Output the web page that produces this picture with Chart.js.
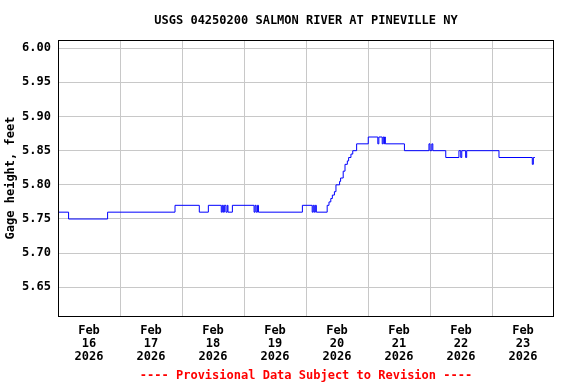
<!DOCTYPE html>
<html>
<head>
<meta charset="utf-8">
<script src="https://cdn.jsdelivr.net/npm/chart.js@4.4.1/dist/chart.umd.min.js"></script>
<style>
  html, body { margin: 0; padding: 0; background: #fff; }
  #wrap { width: 576px; height: 384px; }
</style>
</head>
<body>
<div id="wrap"><canvas id="gage" width="576" height="384"></canvas></div>
<script>
// hours since Feb 16 2026 00:00 -> gage height (ft), each value holds until the next entry
const hours = [
    0, 4.1, 19.2, 45.3, 54.7, 58.2, 63.2, 63.6, 64.0, 64.4, 65.0, 65.5, 65.8, 67.5,
    75.9, 76.3, 76.7, 77.2, 77.6, 94.6, 98.4, 98.8, 99.2, 99.6, 100.0,
    104.2, 104.9, 105.6, 106.2, 107.0, 107.6, 109.0, 109.4, 110.4, 111.1, 112.0, 112.5, 113.4, 114.1, 115.6,
    120.1, 123.8, 124.2, 125.5, 125.9, 126.3, 126.5, 126.7, 134.1,
    143.6, 144.0, 144.7, 145.1, 150.1, 155.2, 155.9, 156.3, 157.8, 158.2, 170.7, 183.6, 184.0, 184.6
];
const heights = [
    5.76, 5.75, 5.76, 5.77, 5.76, 5.77, 5.76, 5.77, 5.76, 5.77, 5.76, 5.77, 5.76, 5.77,
    5.76, 5.77, 5.76, 5.77, 5.76, 5.77, 5.76, 5.77, 5.76, 5.77, 5.76,
    5.77, 5.775, 5.78, 5.785, 5.79, 5.80, 5.805, 5.81, 5.82, 5.83, 5.835, 5.84, 5.845, 5.85, 5.86,
    5.87, 5.86, 5.87, 5.86, 5.87, 5.86, 5.87, 5.86, 5.85,
    5.86, 5.85, 5.86, 5.85, 5.84, 5.85, 5.84, 5.85, 5.84, 5.85, 5.84, 5.83, 5.84, 5.84
];
const dayLabels = ['16', '17', '18', '19', '20', '21', '22', '23'];
const yTicks = [5.65, 5.70, 5.75, 5.80, 5.85, 5.90, 5.95, 6.00];

const font = { family: "'DejaVu Sans Mono', monospace", size: 12, weight: 'bold' };
const gridColor = '#c8c8c8';

// black box round the plot area
const frame = {
    id: 'frame',
    afterDraw(chart) {
        const { ctx, chartArea: a } = chart;
        ctx.save();
        ctx.strokeStyle = '#000';
        ctx.lineWidth = 1;
        ctx.strokeRect(Math.round(a.left) + 0.5, Math.round(a.top) + 0.5,
            Math.round(a.right - a.left) - 1, Math.round(a.bottom - a.top));
        ctx.restore();
    }
};

new Chart(document.getElementById('gage'), {
    type: 'line',
    data: {
        datasets: [{
            data: hours.map((h, i) => ({ x: h, y: heights[i] })),
            borderColor: '#0000ff',
            borderWidth: 1,
            pointRadius: 0,
            stepped: 'before',
            fill: false
        }]
    },
    options: {
        responsive: false,
        animation: false,
        layout: { padding: { left: 0, right: 22, top: 0, bottom: 0 } },
        scales: {
            x: {
                type: 'linear',
                min: 0,
                max: 192,
                afterFit: s => { s.height = 68; },
                afterBuildTicks: s => {
                    const t = [];
                    for (let h = 12; h <= 180; h += 12) t.push({ value: h });
                    s.ticks = t;
                },
                grid: {
                    drawTicks: false,
                    color: c => (c.tick && c.tick.value % 24 === 0) ? gridColor : 'rgba(0,0,0,0)'
                },
                border: { display: false },
                ticks: {
                    autoSkip: false,
                    maxRotation: 0,
                    padding: 8,
                    color: '#000',
                    font: { ...font, lineHeight: '13px' },
                    callback: v => v % 24 === 12 ? ['Feb', dayLabels[Math.floor(v / 24)], '2026'] : ''
                },
                title: {
                    display: true,
                    text: '---- Provisional Data Subject to Revision ----',
                    color: '#ff0000',
                    font: font,
                    padding: { top: 0, bottom: 1 }
                }
            },
            y: {
                min: 5.608,
                max: 6.012,
                afterFit: s => { s.width = 58; },
                afterBuildTicks: s => { s.ticks = yTicks.map(v => ({ value: v })); },
                grid: { drawTicks: false, color: gridColor },
                border: { display: false },
                ticks: {
                    padding: 7,
                    color: '#000',
                    font: font,
                    callback: v => v.toFixed(2)
                },
                title: {
                    display: true,
                    text: 'Gage height, feet',
                    color: '#000',
                    font: font,
                    padding: { top: 4, bottom: 0 }
                }
            }
        },
        plugins: {
            legend: { display: false },
            tooltip: { enabled: false },
            title: {
                display: true,
                fullSize: false,
                text: 'USGS 04250200 SALMON RIVER AT PINEVILLE NY',
                color: '#000',
                font: font,
                padding: { top: 14, bottom: 11.6 }
            }
        }
    },
    plugins: [frame]
});
</script>
</body>
</html>
